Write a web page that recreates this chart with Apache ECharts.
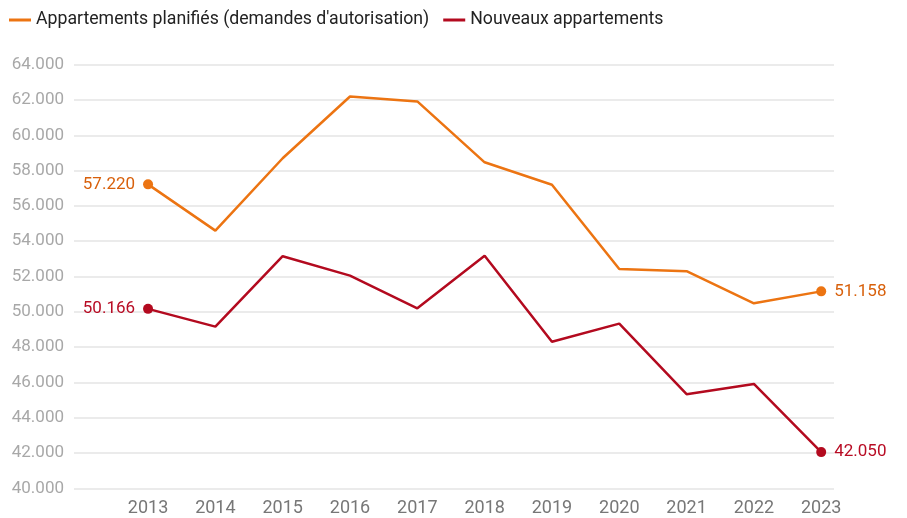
<!DOCTYPE html>
<html>
<head>
<meta charset="utf-8">
<script src="https://cdn.jsdelivr.net/npm/echarts@6/dist/echarts.min.js"></script>
<style>
  html, body { margin: 0; padding: 0; background: #fff; }
  #chartDom { width: 907px; height: 518px; }
</style>
</head>
<body>
<div id="chartDom"></div>
<script>
// données
const years = [2013, 2014, 2015, 2016, 2017, 2018, 2019, 2020, 2021, 2022, 2023];
const planifies = [57220, 54600, 58700, 62200, 61920, 58470, 57200, 52420, 52300, 50480, 51158];
const nouveaux = [50166, 49160, 53150, 52050, 50200, 53180, 48300, 49330, 45330, 45910, 42050];
const yTicks = [40000, 42000, 44000, 46000, 48000, 50000, 52000, 54000, 56000, 58000, 60000, 62000, 64000];

const fmt = (v) => String(v).replace(/\B(?=(\d{3})+(?!\d))/g, '.');

// points avec étiquette au début et à la fin
function build(values, labelColor) {
  const last = values.length - 1;
  return values.map((v, i) => {
    const item = { value: [years[i], v] };
    if (i === 0 || i === last) {
      item.symbolSize = 10;
      item.label = {
        show: true,
        position: i === 0 ? 'left' : 'right',
        distance: 8,
        color: labelColor,
        fontSize: 17,
        fontFamily: 'Roboto',
        formatter: (p) => fmt(p.value[1])
      };
    } else {
      item.symbolSize = 0;
    }
    return item;
  });
}

const chart = echarts.init(document.getElementById('chartDom'));
chart.setOption({
  animation: false,
  textStyle: { fontFamily: 'Roboto' },
  legend: {
    left: 4,
    top: 6,
    itemWidth: 22,
    itemHeight: 3,
    itemGap: 14,
    icon: 'rect',
    textStyle: { fontSize: 17.7, color: '#222', fontFamily: 'Roboto' },
    data: ['Appartements planifiés (demandes d\'autorisation)', 'Nouveaux appartements']
  },
  grid: { left: 74, right: 73, top: 64.7, bottom: 29.7, containLabel: false },
  xAxis: {
    type: 'value',
    min: 2011.9,
    max: 2023.19,
    axisLine: { show: false },
    axisTick: { show: false },
    splitLine: { show: false },
    axisLabel: {
      customValues: years,
      formatter: (v) => String(v),
      color: '#777',
      fontSize: 18,
      margin: 11
    }
  },
  yAxis: {
    type: 'value',
    min: 40000,
    max: 64000,
    interval: 2000,
    axisLine: { show: false },
    axisTick: { show: false },
    splitLine: { lineStyle: { color: '#e4e4e4', width: 1.5 } },
    axisLabel: {
      formatter: (v) => yTicks.includes(v) ? fmt(v) : '',
      color: '#a8a8a8',
      fontSize: 17,
      margin: 10
    }
  },
  series: [
    {
      name: 'Appartements planifiés (demandes d\'autorisation)',
      type: 'line',
      symbol: 'circle',
      color: '#ec7412',
      lineStyle: { width: 2.5 },
      data: build(planifies, '#d8600b')
    },
    {
      name: 'Nouveaux appartements',
      type: 'line',
      symbol: 'circle',
      color: '#b30a1f',
      lineStyle: { width: 2.5 },
      data: build(nouveaux, '#b80c24')
    }
  ]
});
</script>
</body>
</html>
